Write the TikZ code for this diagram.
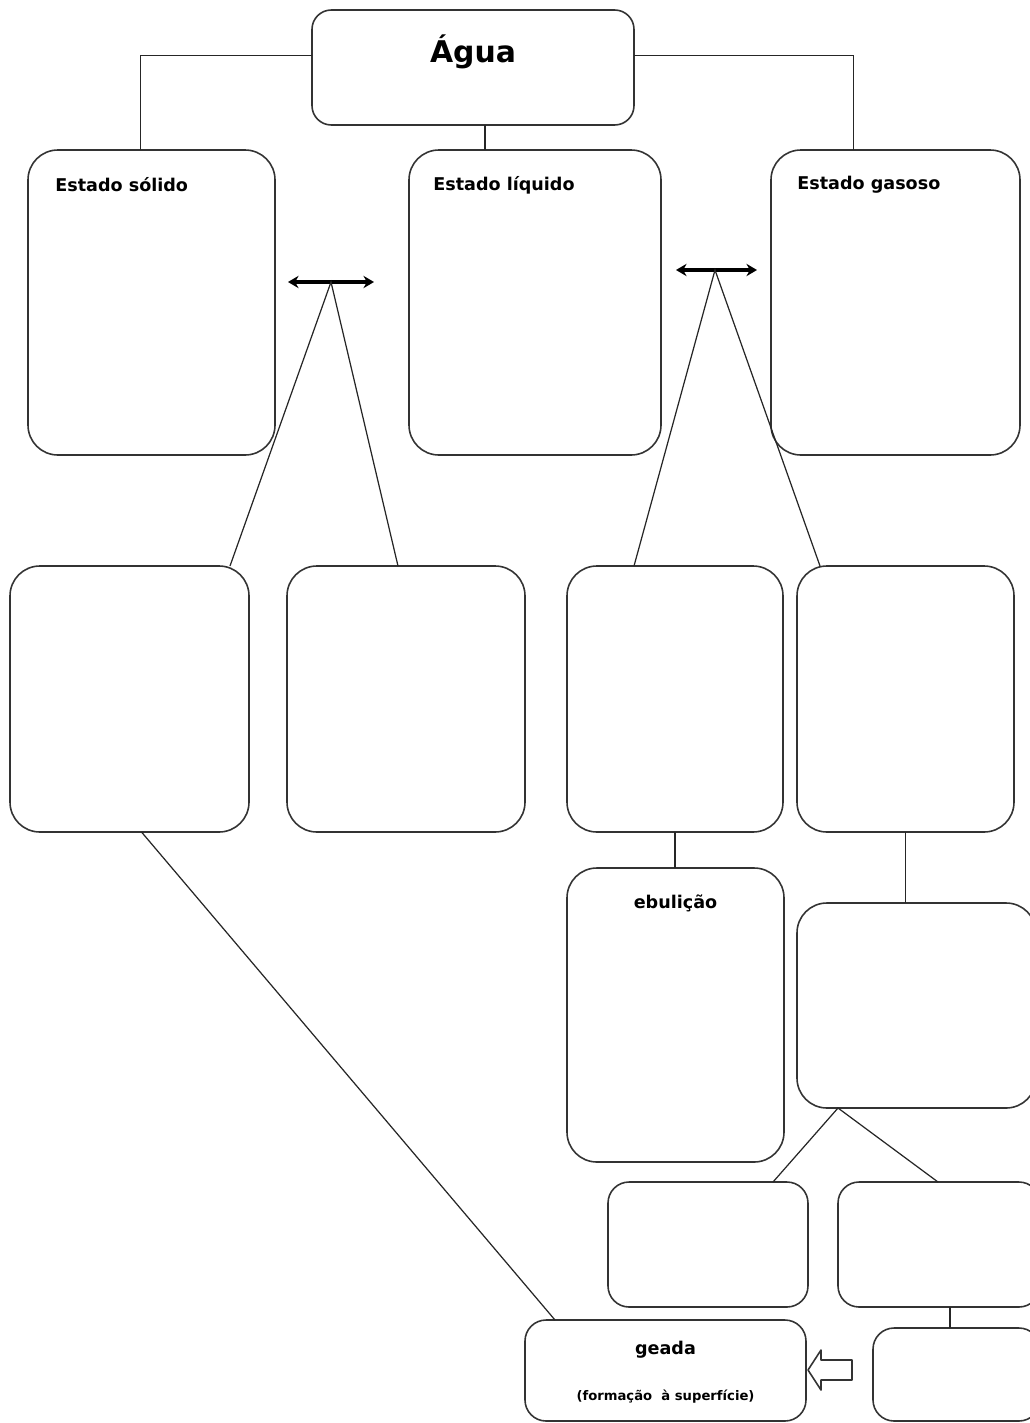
\documentclass[tikz,border=0pt]{standalone}
\usepackage{fontspec}
\setmainfont{DejaVu Sans}
\usetikzlibrary{arrows,%
		arrows.meta,%
		calc,%
		positioning}
\newcommand{\px}{0.02cm}
% caixa: nome, x1, y1, x2, y2
\newcommand{\caixa}[6][]{%
  \node[caixa,#1,minimum width={(#5-#3)*\px},minimum height={(#6-#4)*\px}] (#2) at ({(#3+#5)/2},{(#4+#6)/2}) {};}

\begin{document}
\begin{tikzpicture}[x=\px,y=-\px,
  caixa/.style={draw=black!80,line width=0.9pt,rounded corners=17pt,inner sep=0pt,outer sep=0pt},
  liga/.style={draw=black!85,line width=0.7pt},
  seta/.style={line width=2pt,{Stealth[length=6pt,width=7pt]}-{Stealth[length=6pt,width=7pt]}},
  titulo/.style={font=\bfseries\fontsize{10}{12}\selectfont,inner sep=0pt}]
\useasboundingbox (0,0) rectangle (1029,1423);
%agua e estados
\caixa[rounded corners=11pt]{agua}{312}{10}{634}{125}
\caixa{solido}{28}{150}{275}{455}
\caixa{liquido}{409}{150}{661}{455}
\caixa{gasoso}{771}{150}{1020}{455}
\node[font=\bfseries\fontsize{17}{20}\selectfont,inner sep=0pt] (tagua) at ([yshift=-42*\px]agua.north) {Água};
\node[titulo,anchor=west] (tsolido) at ([xshift=27*\px,yshift=-35*\px]solido.north west) {Estado sólido};
\node[titulo,anchor=west] (tliquido) at ([xshift=24*\px,yshift=-35*\px]liquido.north west) {Estado líquido};
\node[titulo,anchor=west] (tgasoso) at ([xshift=26*\px,yshift=-35*\px]gasoso.north west) {Estado gasoso};
\draw[liga] ([yshift=12*\px]agua.west) -| ([xshift=-11*\px]solido.north);
\draw[liga] ([yshift=12*\px]agua.east) -| ([xshift=-42*\px]gasoso.north);
\draw[liga] ([xshift=12*\px]agua.south) -- ([xshift=12*\px]agua.south |- liquido.north);
%mudancas de estado
\caixa{fusao}{10}{566}{249}{832}
\caixa{solidif}{287}{566}{525}{832}
\caixa{vapor}{567}{566}{783}{832}
\caixa{condens}{797}{566}{1014}{832}
\coordinate (s1a) at (288,282);
\coordinate (s1b) at (374,282);
\coordinate (v1) at (331,282);
\coordinate (s2a) at (676,270);
\coordinate (s2b) at (757,270);
\coordinate (v2) at (715,270);
\draw[seta] (s1a) -- (s1b);
\draw[seta] (s2a) -- (s2b);
\draw[liga] ([xshift=-19*\px]fusao.north east) -- (v1) -- ([xshift=-8*\px]solidif.north);
\draw[liga] ([xshift=-41*\px]vapor.north) -- (v2) -- ([xshift=23*\px]condens.north west);
%ebulicao
\caixa{ebulicao}{567}{868}{784}{1162}
\node[titulo] (tebulicao) at ([yshift=-35*\px]ebulicao.north) {ebulição};
\draw[liga] (vapor.south) -- (vapor.south |- ebulicao.north);
%lado do gas
\caixa{gas1}{797}{903}{1036}{1108}
\caixa[rounded corners=12pt]{gas2}{608}{1182}{808}{1307}
\caixa[rounded corners=12pt]{gas3}{838}{1182}{1040}{1307}
\caixa[rounded corners=12pt]{gas4}{873}{1328}{1040}{1421}
\draw[liga] (condens.south) -- (condens.south |- gas1.north);
\draw[liga] ([xshift=-35*\px]gas2.north east) -- ([xshift=41*\px]gas1.south west) -- ([xshift=100*\px]gas3.north west);
\draw[liga,line width=1.6pt] ([xshift=112*\px]gas3.south west) -- ([xshift=112*\px]gas3.south west |- gas4.north);
%geada
\caixa[rounded corners=12pt]{geada}{525}{1320}{806}{1421}
\node[titulo] (tgeada) at ([yshift=-30*\px]geada.north) {geada};
\node[font=\bfseries\fontsize{7.5}{9}\selectfont,inner sep=0pt] (tformacao) at ([yshift=-77*\px]geada.north) {(formação \ à superfície)};
\draw[liga] ([xshift=12*\px]fusao.south) -- ([xshift=30*\px]geada.north west);
\draw[line width=0.9pt,draw=black!80,line join=round] (852,1360) -- (821,1360) -- (821,1350) -- (808,1370) -- (821,1390) -- (821,1380) -- (852,1380) -- cycle;
\end{tikzpicture}
\end{document}
